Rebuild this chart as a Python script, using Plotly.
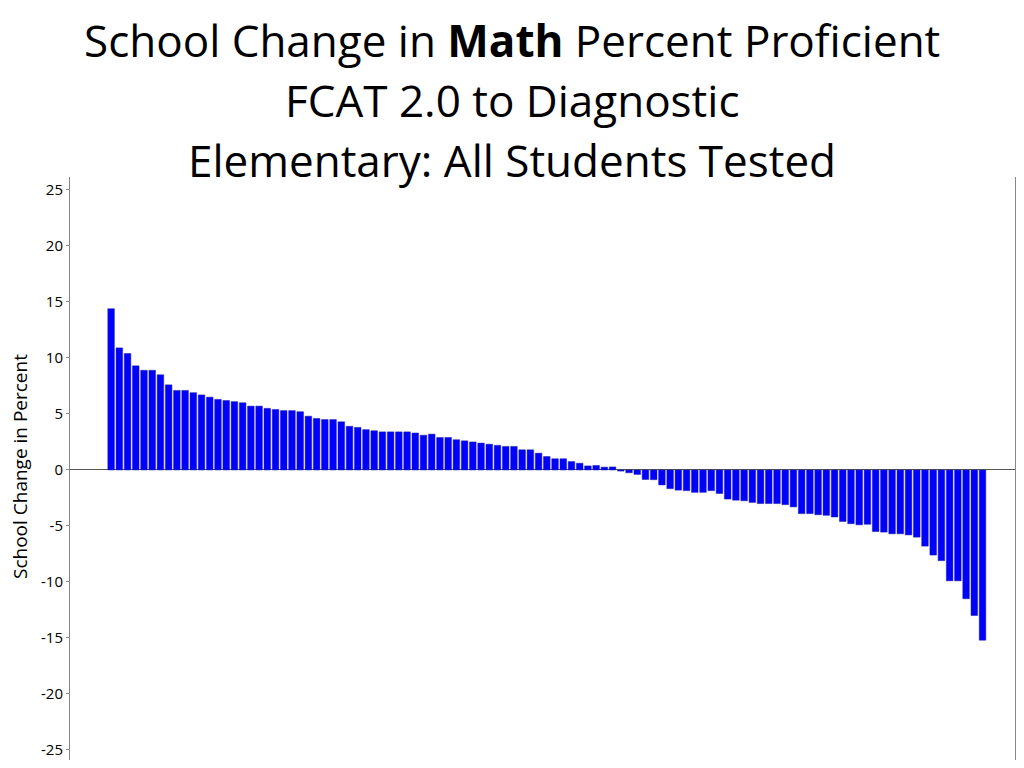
import plotly.graph_objects as go

# School change values (percent), sorted descending as in the chart
changes = [
    14.4, 10.9, 10.4, 9.3, 8.9, 8.9, 8.5, 7.6, 7.1, 7.1,
    6.9, 6.7, 6.5, 6.3, 6.2, 6.1, 6.0, 5.7, 5.7, 5.5,
    5.4, 5.3, 5.3, 5.2, 4.8, 4.6, 4.5, 4.5, 4.3, 3.9,
    3.8, 3.6, 3.5, 3.4, 3.4, 3.4, 3.4, 3.3, 3.1, 3.2,
    2.9, 2.9, 2.7, 2.6, 2.5, 2.4, 2.3, 2.2, 2.1, 2.1,
    1.8, 1.8, 1.5, 1.2, 1.0, 1.0, 0.75, 0.6, 0.36, 0.4,
    0.25, 0.27, -0.1, -0.25, -0.4, -0.85, -0.87, -1.34, -1.67, -1.8,
    -1.85, -2.0, -2.0, -1.85, -2.1, -2.6, -2.7, -2.75, -2.9, -3.0,
    -3.0, -3.0, -3.1, -3.3, -3.9, -3.9, -4.0, -4.05, -4.2, -4.6,
    -4.8, -4.9, -4.85, -5.5, -5.55, -5.7, -5.7, -5.8, -6.0, -6.8,
    -7.6, -8.1, -9.9, -9.9, -11.5, -13.0, -15.2,
]
schools = list(range(len(changes)))
tick_vals = [-25, -20, -15, -10, -5, 0, 5, 10, 15, 20, 25]
tick_text = ["-25", "-20", "-15", "-10", "-5", "0", "5", "10", "15", "20", "25"]
title_lines = [
    "School Change in <b>Math</b> Percent Proficient",
    "FCAT 2.0 to Diagnostic",
    "Elementary: All Students Tested",
]
y_title = "School Change in Percent"

fig = go.Figure()
fig.add_trace(go.Bar(
    x=schools, y=changes, width=0.8,
    marker=dict(color="#0000ff", line=dict(color="#1a1aa0", width=0.5)),
    hoverinfo="y",
))

# The page body adds an 8px margin all round; keep the figure inside it.
OFF = 8
W, H = 1024 - 2 * OFF, 768 - 2 * OFF
ml, mr, mt, mb = 70 - OFF, 1, 177 - OFF, 0
plot_w = W - ml - mr
plot_h = H - mt - mb

def px(p):
    return (p - OFF - ml) / plot_w

def py(p):
    return (H - mb - (p - OFF)) / plot_h

annotations = []
for txt, ypix in zip(title_lines, [40, 100, 160]):
    annotations.append(dict(
        text=txt, xref="paper", yref="paper", x=px(512), y=py(ypix),
        xanchor="center", yanchor="middle", showarrow=False,
        font=dict(family="Open Sans", size=44, color="#000000"),
    ))
annotations.append(dict(
    text=y_title, xref="paper", yref="paper", x=px(6), y=py(467),
    xanchor="left", yanchor="middle", showarrow=False, textangle=-90,
    borderpad=0,
    font=dict(family="Open Sans", size=19, color="#000000"),
))

fig.update_layout(
    width=W, height=H,
    margin=dict(l=ml, r=mr, t=mt, b=mb, pad=0),
    paper_bgcolor="white", plot_bgcolor="white",
    showlegend=False,
    bargap=0.2,
    annotations=annotations,
    xaxis=dict(
        range=[-5.0, 109.95], showgrid=False, zeroline=False,
        showline=False, showticklabels=False, ticks="",
    ),
    yaxis=dict(
        range=[-25.9, 26.16], tickvals=tick_vals, ticktext=tick_text,
        showgrid=False, zeroline=True, zerolinecolor="#555555", zerolinewidth=1,
        showline=True, linecolor="#888888", linewidth=1, mirror=True,
        ticks="outside", ticklen=3, tickcolor="#888888",
        tickfont=dict(family="Open Sans", size=15, color="#000000"),
    ),
)

fig.write_html("out.html")
